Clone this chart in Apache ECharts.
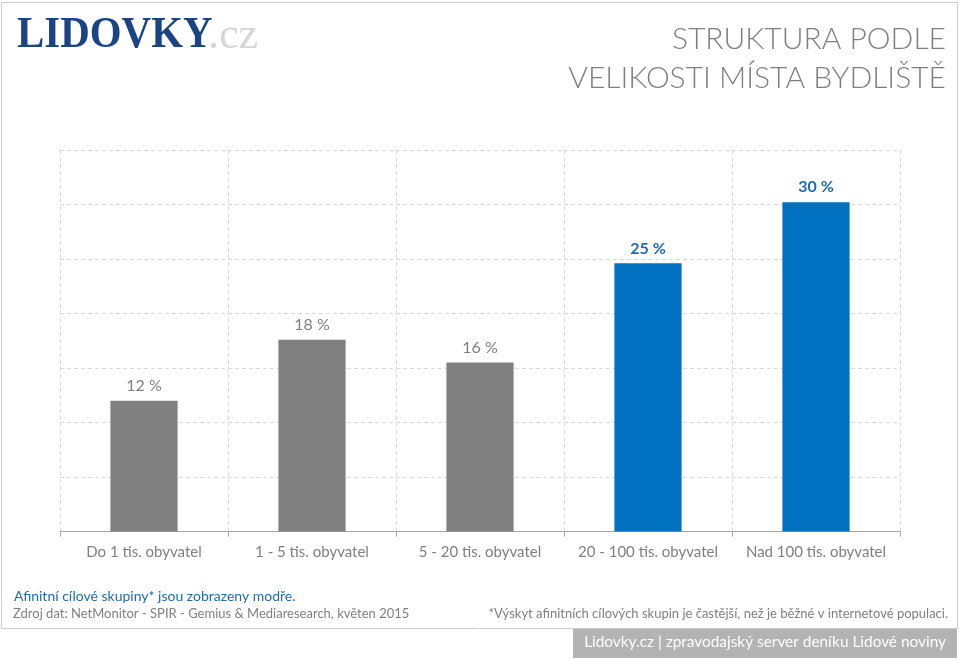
<!DOCTYPE html>
<html>
<head>
<meta charset="utf-8">
<script src="https://cdn.jsdelivr.net/npm/echarts@6/dist/echarts.min.js"></script>
<style>html,body{margin:0;padding:0;background:#fff;}#c{width:960px;height:660px;}</style>
</head>
<body>
<div id="c"></div>
<script>
var categories = ['Do 1 tis. obyvatel', '1 - 5 tis. obyvatel', '5 - 20 tis. obyvatel', '20 - 100 tis. obyvatel', 'Nad 100 tis. obyvatel'];
var values = [12.0, 17.6, 15.5, 24.6, 30.2];
var affinity = [false, false, false, true, true];

var FONT = 'Lato, "Open Sans", sans-serif';
var GRAY = '#7f7f7f';
var BLUE = '#0070c0';

var chart = echarts.init(document.getElementById('c'));
chart.setOption({
  animation: false,
  grid: { left: 60, right: 60, top: 150, bottom: 128.5 },
  xAxis: {
    type: 'category',
    data: categories,
    axisLine: { lineStyle: { color: '#a6a6a6', width: 1 } },
    axisTick: { show: true, interval: 0, length: 5, lineStyle: { color: '#a6a6a6' } },
    axisLabel: { interval: 0, color: GRAY, fontSize: 15, fontFamily: FONT, margin: 13 },
    splitLine: { show: true, interval: 0, lineStyle: { color: '#d9d9d9', type: [4, 3] } }
  },
  yAxis: {
    type: 'value', min: 0, max: 35, interval: 5,
    axisLabel: { show: false }, axisLine: { show: false }, axisTick: { show: false },
    splitLine: { show: true, lineStyle: { color: '#d9d9d9', type: [4, 3] } }
  },
  series: [{
    type: 'bar',
    barWidth: '40%',
    data: values.map(function (v, i) {
      return {
        value: v,
        itemStyle: { color: affinity[i] ? BLUE : '#808080' },
        label: { color: affinity[i] ? '#1f6aad' : GRAY, fontWeight: affinity[i] ? 'bold' : 'normal' }
      };
    }),
    label: {
      show: true, position: 'top', distance: 7, fontSize: 16, fontFamily: FONT,
      formatter: function (p) { return Math.round(p.value) + ' %'; }
    }
  }],
  graphic: [
    { type: 'rect', shape: { x: 1.5, y: 2.5, width: 956, height: 626 }, style: { fill: 'none', stroke: '#cccccc', lineWidth: 1 }, z: -1 },
    { type: 'text', x: 17, y: 14, scaleX: 0.93, style: { x: 0, y: 0, text: 'LIDOVKY', font: 'bold 44px "Liberation Serif", serif', fill: '#1b4485' } },
    { type: 'text', x: 208, y: 14, style: { x: 0, y: 0, text: '.cz', font: '44px "Liberation Serif", serif', fill: '#d6d6d6' } },
    { type: 'text', right: 14, top: 24, style: { text: 'STRUKTURA PODLE', font: '300 30px ' + FONT, fill: GRAY, textAlign: 'right' } },
    { type: 'text', right: 14, top: 63, style: { text: 'VELIKOSTI MÍSTA BYDLIŠTĚ', font: '300 30px ' + FONT, fill: GRAY, textAlign: 'right' } },
    { type: 'text', left: 14, top: 589, style: { text: 'Afinitní cílové skupiny* jsou zobrazeny modře.', font: '14px ' + FONT, fill: '#1f6aad' } },
    { type: 'text', left: 13, top: 607, style: { text: 'Zdroj dat: NetMonitor - SPIR - Gemius & Mediaresearch, květen 2015', font: '13px ' + FONT, fill: GRAY } },
    { type: 'text', right: 12, top: 607, style: { text: '*Výskyt afinitních cílových skupin je častější, než je běžné v internetové populaci.', font: '13px ' + FONT, fill: GRAY, textAlign: 'right' } },
    { type: 'rect', shape: { x: 573, y: 629, width: 384, height: 29 }, style: { fill: '#b3b3b3' } },
    { type: 'text', right: 14, top: 635, style: { text: 'Lidovky.cz | zpravodajský server deníku Lidové noviny', font: '15.4px ' + FONT, fill: '#ffffff', textAlign: 'right' } }
  ]
});
</script>
</body>
</html>
